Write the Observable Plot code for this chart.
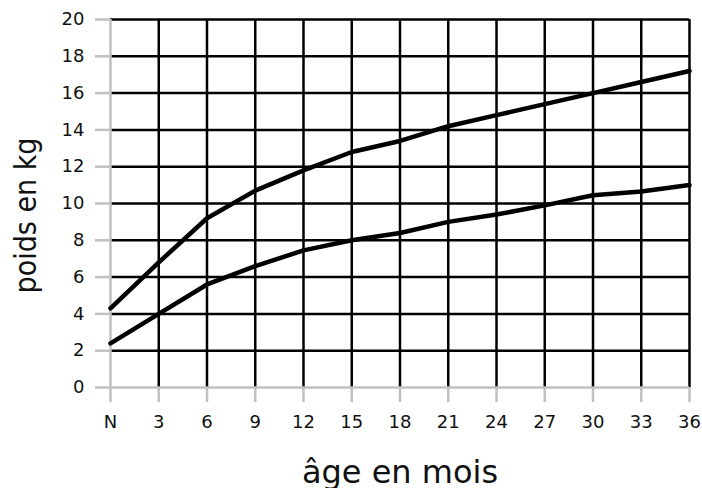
<!DOCTYPE html>
<html>
<head>
<meta charset="utf-8">
<script src="https://cdn.jsdelivr.net/npm/d3@7"></script>
<script src="https://cdn.jsdelivr.net/npm/@observablehq/plot@0.6"></script>
<style>
  html, body { margin: 0; padding: 0; background: white; }
</style>
</head>
<body>
<div id="chart"></div>
<script>
const months = [0, 3, 6, 9, 12, 15, 18, 21, 24, 27, 30, 33, 36];
const xTickLabels = ["N", "3", "6", "9", "12", "15", "18", "21", "24", "27", "30", "33", "36"];
const yTicks = [0, 2, 4, 6, 8, 10, 12, 14, 16, 18, 20];
const upperWeights = [4.3, 6.8, 9.2, 10.7, 11.8, 12.8, 13.4, 14.2, 14.8, 15.4, 16.0, 16.6, 17.2];
const lowerWeights = [2.4, 4.0, 5.6, 6.6, 7.45, 8.0, 8.4, 9.0, 9.4, 9.9, 10.45, 10.65, 11.0];
const xTitle = "âge en mois";
const yTitle = "poids en kg";

const upper = months.map((m, i) => ({month: m, weight: upperWeights[i]}));
const lower = months.map((m, i) => ({month: m, weight: lowerWeights[i]}));

const gray = "#c0c0c0";
const chart = Plot.plot({
  width: 702,
  height: 488,
  marginLeft: 110,
  marginRight: 13,
  marginTop: 19,
  marginBottom: 101,
  style: {fontFamily: "DejaVu Sans", fontSize: "18px", background: "white", color: "#111"},
  x: {domain: [0, 36]},
  y: {domain: [0, 20]},
  marks: [
    Plot.gridX(months.filter(d => d > 0), {stroke: "black", strokeOpacity: 1, strokeWidth: 2.5}),
    Plot.gridY(yTicks.filter(d => d > 0), {stroke: "black", strokeOpacity: 1, strokeWidth: 2.5}),
    Plot.ruleX([0], {stroke: gray, strokeWidth: 2.5}),
    Plot.ruleY([0], {stroke: gray, strokeWidth: 2.5}),
    Plot.axisX(months, {tickSize: 15, tickPadding: 13, stroke: gray, strokeWidth: 2.5, fill: "#111", fontSize: 18,
      tickFormat: d => xTickLabels[months.indexOf(d)], label: null}),
    Plot.axisY(yTicks, {tickSize: 15, tickPadding: 11, stroke: gray, strokeWidth: 2.5, fill: "#111", fontSize: 18,
      tickFormat: d => String(d), label: null}),
    Plot.line(upper, {x: "month", y: "weight", stroke: "black", strokeWidth: 4.5}),
    Plot.line(lower, {x: "month", y: "weight", stroke: "black", strokeWidth: 4.5}),
    Plot.text([xTitle], {frameAnchor: "bottom", textAnchor: "middle", lineAnchor: "bottom", dy: 95, fontSize: 32, fill: "#111"}),
    Plot.text([yTitle], {frameAnchor: "left", textAnchor: "middle", lineAnchor: "bottom", rotate: -90, dx: -75, dy: 12,
      fontSize: 30, fontFamily: "DejaVu Sans Condensed", fill: "#111"})
  ]
});
document.getElementById("chart").appendChild(chart);
</script>
</body>
</html>
